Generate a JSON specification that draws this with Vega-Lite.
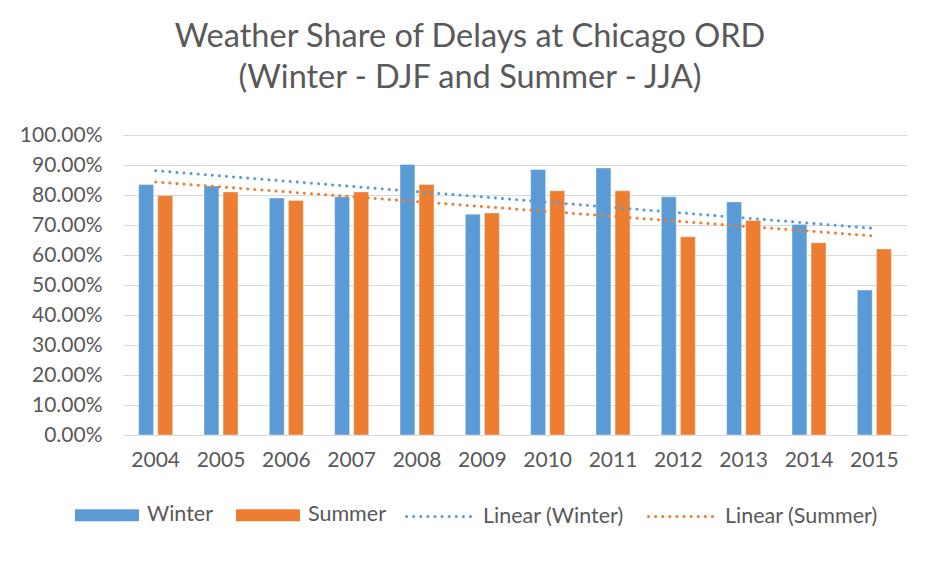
{
  "$schema": "https://vega.github.io/schema/vega-lite/v6.json",
  "autosize": {"type": "none"},
  "width": 784,
  "height": 300,
  "padding": {"left": 123, "top": 135, "right": 26, "bottom": 128},
  "background": "white",
  "title": {
    "text": ["Weather Share of Delays at Chicago ORD", "(Winter - DJF and Summer - JJA)"],
    "font": "Lato",
    "fontSize": 32.5,
    "fontWeight": "normal",
    "color": "#595959",
    "anchor": "middle",
    "dx": -45,
    "lineHeight": 41,
    "offset": 30
  },
  "config": {
    "view": {"stroke": null},
    "font": "Lato",
    "axis": {"labelFont": "Lato", "labelColor": "#595959", "labelFontSize": 21, "gridColor": "#d9d9d9", "domainColor": "#d9d9d9", "ticks": false, "title": null},
    "legend": {"labelFont": "Lato", "labelColor": "#595959", "labelFontSize": 21.5}
  },
  "datasets": {
    "trendNames": [
      {"series": "Winter", "trend": "Linear (Winter)"},
      {"series": "Summer", "trend": "Linear (Summer)"}
    ]
  },
  "data": {
    "values": [
      {"year": 2004, "series": "Winter", "value": 0.835},
      {"year": 2004, "series": "Summer", "value": 0.798},
      {"year": 2005, "series": "Winter", "value": 0.830},
      {"year": 2005, "series": "Summer", "value": 0.810},
      {"year": 2006, "series": "Winter", "value": 0.790},
      {"year": 2006, "series": "Summer", "value": 0.782},
      {"year": 2007, "series": "Winter", "value": 0.794},
      {"year": 2007, "series": "Summer", "value": 0.810},
      {"year": 2008, "series": "Winter", "value": 0.902},
      {"year": 2008, "series": "Summer", "value": 0.835},
      {"year": 2009, "series": "Winter", "value": 0.736},
      {"year": 2009, "series": "Summer", "value": 0.740},
      {"year": 2010, "series": "Winter", "value": 0.885},
      {"year": 2010, "series": "Summer", "value": 0.814},
      {"year": 2011, "series": "Winter", "value": 0.890},
      {"year": 2011, "series": "Summer", "value": 0.814},
      {"year": 2012, "series": "Winter", "value": 0.794},
      {"year": 2012, "series": "Summer", "value": 0.661},
      {"year": 2013, "series": "Winter", "value": 0.777},
      {"year": 2013, "series": "Summer", "value": 0.715},
      {"year": 2014, "series": "Winter", "value": 0.702},
      {"year": 2014, "series": "Summer", "value": 0.641},
      {"year": 2015, "series": "Winter", "value": 0.483},
      {"year": 2015, "series": "Summer", "value": 0.620}
    ]
  },
  "encoding": {
    "x": {
      "field": "year", "type": "ordinal",
      "scale": {"paddingInner": 0.48, "paddingOuter": 0.24},
      "axis": {"labelAngle": 0, "labelPadding": 14, "grid": false, "domain": true, "domainWidth": 1}
    },
    "y": {
      "field": "value", "type": "quantitative",
      "scale": {"domain": [0, 1]},
      "axis": {"format": ".2%", "values": [0, 0.1, 0.2, 0.3, 0.4, 0.5, 0.6, 0.7, 0.8, 0.9, 1.0], "labelOverlap": false, "domain": false, "labelPadding": 21, "grid": true}
    }
  },
  "layer": [
    {
      "mark": {"type": "bar", "stroke": "white", "strokeOpacity": 0.35, "strokeWidth": 1},
      "encoding": {
        "xOffset": {"field": "series", "type": "nominal", "sort": ["Winter", "Summer"], "scale": {"paddingInner": 0.22}},
        "fill": {
          "field": "series", "type": "nominal",
          "scale": {"domain": ["Winter", "Summer"], "range": ["#5b9bd5", "#ed7d31"]},
          "legend": {
            "orient": "none", "direction": "horizontal", "title": null,
            "legendX": -48, "legendY": 348,
            "symbolType": "M-1,-0.19H1V0.19H-1Z", "symbolSize": 4096, "symbolStrokeWidth": 0,
            "labelOffset": 8, "columnPadding": 22
          }
        }
      }
    },
    {
      "transform": [
        {"regression": "value", "on": "year", "groupby": ["series"]},
        {"lookup": "series", "from": {"data": {"name": "trendNames"}, "key": "series", "fields": ["trend"]}}
      ],
      "mark": {"type": "line", "strokeWidth": 3, "strokeDash": [0.1, 7], "strokeCap": "round"},
      "encoding": {
        "stroke": {
          "field": "trend", "type": "nominal",
          "scale": {"domain": ["Linear (Winter)", "Linear (Summer)"], "range": ["#5b9bd5", "#ed7d31"]},
          "legend": {
            "orient": "none", "direction": "horizontal", "title": null,
            "legendX": 282, "legendY": 348,
            "symbolType": "stroke", "symbolSize": 4096, "symbolStrokeWidth": 3, "symbolDash": [0.1, 7],
            "labelOffset": 11, "columnPadding": 18,
            "encode": {"symbols": {"update": {"strokeCap": {"value": "round"}}}}
          }
        }
      }
    }
  ]
}
